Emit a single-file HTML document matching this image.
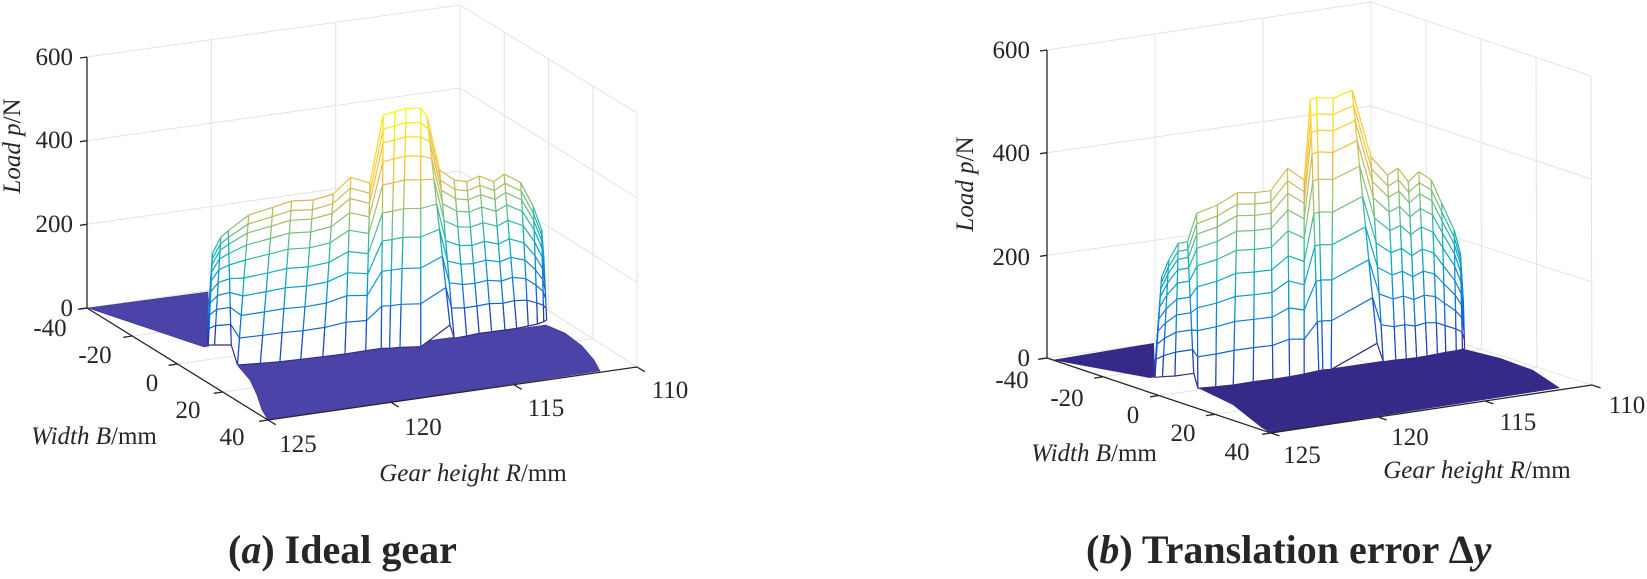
<!DOCTYPE html>
<html><head><meta charset="utf-8"><style>
html,body{margin:0;padding:0;background:#fff;}
svg{display:block;}
text{font-family:"Liberation Serif",serif;fill:#262626;}
</style></head>
<body>
<svg id="s" width="1647" height="579" viewBox="0 0 1647 579" xmlns="http://www.w3.org/2000/svg">
<g id="g"></g>
<g font-size="25">
<!-- left chart labels -->
<text x="73" y="65" text-anchor="end">600</text>
<text x="73" y="148" text-anchor="end">400</text>
<text x="73" y="232" text-anchor="end">200</text>
<text x="73" y="316" text-anchor="end">0</text>
<text x="50" y="336" text-anchor="middle">-40</text>
<text x="95" y="363" text-anchor="middle">-20</text>
<text x="152" y="391" text-anchor="middle">0</text>
<text x="188" y="418" text-anchor="middle">20</text>
<text x="232" y="445" text-anchor="middle">40</text>
<text x="298" y="452" text-anchor="middle">125</text>
<text x="423" y="435" text-anchor="middle">120</text>
<text x="546" y="416" text-anchor="middle">115</text>
<text x="670" y="398" text-anchor="middle">110</text>
<text x="94" y="444" text-anchor="middle"><tspan font-style="italic">Width B</tspan>/mm</text>
<text x="473" y="481" text-anchor="middle"><tspan font-style="italic">Gear height R</tspan>/mm</text>
<text transform="translate(20,146) rotate(-90)" text-anchor="middle"><tspan font-style="italic">Load p</tspan>/N</text>
<!-- right chart labels -->
<text x="1030" y="58" text-anchor="end">600</text>
<text x="1030" y="161" text-anchor="end">400</text>
<text x="1030" y="265" text-anchor="end">200</text>
<text x="1030" y="366" text-anchor="end">0</text>
<text x="1012" y="388" text-anchor="middle">-40</text>
<text x="1067" y="406" text-anchor="middle">-20</text>
<text x="1133" y="423" text-anchor="middle">0</text>
<text x="1183" y="441" text-anchor="middle">20</text>
<text x="1237" y="460" text-anchor="middle">40</text>
<text x="1302" y="463" text-anchor="middle">125</text>
<text x="1410" y="445" text-anchor="middle">120</text>
<text x="1518" y="430" text-anchor="middle">115</text>
<text x="1627" y="413" text-anchor="middle">110</text>
<text x="1094" y="461" text-anchor="middle"><tspan font-style="italic">Width B</tspan>/mm</text>
<text x="1477" y="478" text-anchor="middle"><tspan font-style="italic">Gear height R</tspan>/mm</text>
<text transform="translate(973,184) rotate(-90)" text-anchor="middle"><tspan font-style="italic">Load p</tspan>/N</text>
</g>
<g font-size="40" font-weight="bold">
<text x="228" y="563" fill="#000">(<tspan font-style="italic">a</tspan>) Ideal gear</text>
<text x="1086" y="563" fill="#000">(<tspan font-style="italic">b</tspan>) Translation error Δ<tspan font-style="italic">y</tspan></text>
</g>
</svg>
<script>
(function(){
var out='';
function L(a,b,c,w){out+='<line x1="'+a[0].toFixed(1)+'" y1="'+a[1].toFixed(1)+'" x2="'+b[0].toFixed(1)+'" y2="'+b[1].toFixed(1)+'" stroke="'+c+'" stroke-width="'+(w||1)+'"/>';}
function P(pts,fill,stroke){out+='<polygon points="'+pts.map(function(p){return p[0].toFixed(1)+','+p[1].toFixed(1)}).join(' ')+'" fill="'+fill+'"'+(stroke?' stroke="'+stroke+'" stroke-width="0.6"':'')+'/>';}
function lerp(a,b,t){return [a[0]+(b[0]-a[0])*t,a[1]+(b[1]-a[1])*t];}
var stops=[[0,[53,42,135]],[0.1,[15,92,221]],[0.2,[18,125,216]],[0.3,[7,156,207]],[0.4,[21,177,180]],[0.5,[89,189,140]],[0.6,[165,190,107]],[0.7,[225,185,82]],[0.8,[252,206,46]],[0.9,[245,227,23]],[1,[249,251,14]]];
function col(t){t=Math.max(0,Math.min(1,t));for(var i=1;i<stops.length;i++){if(t<=stops[i][0]){var a=stops[i-1],b=stops[i],f=(t-a[0])/(b[0]-a[0]);var c=a[1].map(function(v,j){return Math.round(v+(b[1][j]-v)*f)});return 'rgb('+c.join(',')+')';}}return 'rgb(249,251,14)';}
function chart(c){
  var G='#e3e3e3';
  var lv=[200,400,600];
  // walls
  lv.forEach(function(z){var t=z/600;L(lerp(c.L,c.Lt,t),lerp(c.Bk,c.Bkt,t),G);L(lerp(c.Bk,c.Bkt,t),lerp(c.Rt,c.Rtt,t),G);});
  [1/3,2/3].forEach(function(f){L(lerp(c.L,c.Bk,f),lerp(c.Lt,c.Bkt,f),G);});
  [.25,.5,.75].forEach(function(f){L(lerp(c.Bk,c.Rt,f),lerp(c.Bkt,c.Rtt,f),G);});
  L(c.Bk,c.Bkt,G);L(c.Rt,c.Rtt,G);L(c.L,c.Bk,G);L(c.Bk,c.Rt,G);
  // floor grid
  [.25,.5,.75].forEach(function(f){L(lerp(c.L,c.F,f),lerp(c.Bk,c.Rt,f),G);});
  [1/3,2/3].forEach(function(f){L(lerp(c.L,c.Bk,f),lerp(c.F,c.Rt,f),G);});
  // floors
  c.floors.forEach(function(p){P(p,c.fc,c.fs);});
  // mesh
  var cols=c.cols.map(function(q){return [c.cv([q[0],q[1]]),c.cv([q[2],q[3]])];});
  var fr=[0,.18,.33,.46,.58,.7,.8,.88,.94,1];
  function pt(i,k){return lerp(cols[i][1],cols[i][0],fr[k]);}
  function ld(i,k){var p=pt(i,k);return (cols[i][1][1]-p[1])/c.sc/c.max;}
  for(var i=0;i<cols.length-1;i++){
    for(var k=0;k<fr.length-1;k++){P([pt(i,k),pt(i+1,k),pt(i+1,k+1),pt(i,k+1)],'#fff');}
    for(var k=0;k<fr.length;k++){L(pt(i,k),pt(i+1,k),col((ld(i,k)+ld(i+1,k))/2),1.2);}
    for(var k=0;k<fr.length-1;k++){L(pt(i,k),pt(i,k+1),col((ld(i,k)+ld(i,k+1))/2),1.2);L(pt(i+1,k),pt(i+1,k+1),col((ld(i+1,k)+ld(i+1,k+1))/2),1.2);}
  }
  // axes
  var A='#262626';
  L(c.L,c.Lt,A,1.3);L(c.L,c.F,A,1.3);L(c.F,c.Rt,A,1.3);
  [0,200,400,600].forEach(function(z){var p=lerp(c.L,c.Lt,z/600);L(p,[p[0]-7,p[1]+1],A,1.3);});
  var rd=[c.Rt[0]-c.F[0],c.Rt[1]-c.F[1]],rn=Math.hypot(rd[0],rd[1]);
  var bd=[c.F[0]-c.L[0],c.F[1]-c.L[1]],bn=Math.hypot(bd[0],bd[1]);
  [0,.25,.5,.75,1].forEach(function(f){var p=lerp(c.L,c.F,f);L(p,[p[0]-rd[0]/rn*9,p[1]-rd[1]/rn*9],A,1.3);});
  [0,1/3,2/3,1].forEach(function(f){var p=lerp(c.F,c.Rt,f);L(p,[p[0]+bd[0]/bn*9,p[1]+bd[1]/bn*9],A,1.3);});
}
chart({
  L:[87,308],F:[268,420],Rt:[637,367],Bk:[460,254],Lt:[87,57],Bkt:[460,5],Rtt:[637,113],
  fc:'#4a44a8',fs:'#3a3290',sc:0.42,max:560,
  cv:function(p){return [p[0]/2.4,p[1]/3];},
  floors:[
    [[88,308],[208,292],[209,346],[204,347]],
    [[238,366],[546,325],[565,333],[582,346],[594,360],[600,371],[268,420],[262,410],[257,395],[250,380]]
  ],
  cols:[[500,940,498,1035],[510,760,500,1035],[530,712,515,1035],[548,692,555,1035],
    [597,645,570,1095],[655,622,625,1090],[700,603,672,1085],[752,600,722,1078],[800,582,775,1070],[842,532,828,1062],[888,550,878,1052],
    [920,345,915,1045],[948,335,935,1045],[975,325,960,1042],[1010,325,1010,1040],[1025,350,1080,975],
    [1055,510,1090,1015],[1090,540,1120,1008],[1120,545,1150,1000],[1150,528,1180,995],[1185,545,1212,990],[1210,522,1240,985],[1250,548,1268,978],[1280,620,1290,972],[1300,690,1305,965],[1305,770,1312,960]]
});
chart({
  L:[1047,358],F:[1271,433],Rt:[1592,385],Bk:[1371,314],Lt:[1047,50],Bkt:[1371,2],Rtt:[1591,76],
  fc:'#352a87',fs:null,sc:0.514,max:560,
  cv:function(p){return [p[0]/2.4+900,p[1]/3];},
  floors:[
    [[1052,360],[1154,343],[1155,377],[1150,378]],
    [[1198,388],[1464,349],[1500,358],[1533,370],[1560,388],[1271,433],[1262,428],[1233,405]]
  ],
  cols:[[612,1100,610,1132],[628,830,612,1132],[645,780,630,1130],[668,730,660,1128],[690,725,705,1120],
    [712,640,715,1165],[762,615,758,1160],[810,578,800,1155],[852,578,848,1145],[890,572,895,1138],[930,505,935,1130],[970,540,970,1122],
    [985,300,1005,1112],[1000,292,1015,1110],[1040,295,1035,1108],[1085,270,1145,1030],
    [1130,470,1160,1085],[1170,525,1190,1080],[1195,505,1215,1077],[1220,545,1240,1073],[1245,515,1265,1068],[1275,540,1290,1062],[1300,610,1310,1057],[1330,690,1335,1052],[1345,760,1350,1048],[1352,900,1355,1046]]
});
document.getElementById('g').innerHTML=out;
})();
</script>
</body></html>
